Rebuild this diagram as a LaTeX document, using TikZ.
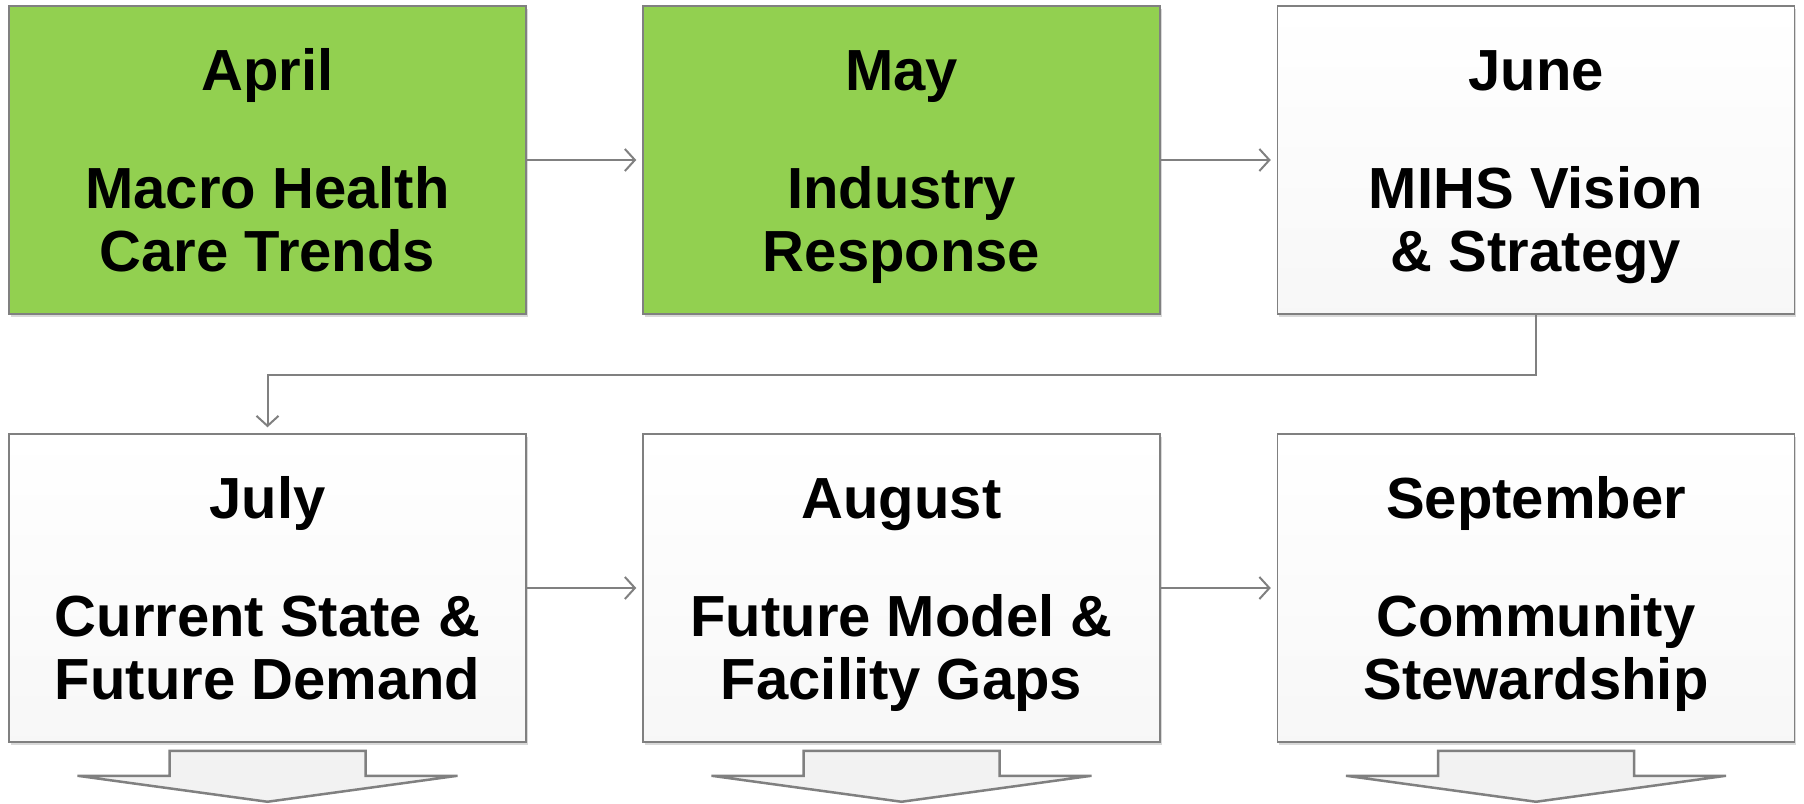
\documentclass[tikz,border=0pt]{standalone}
\usepackage{fontspec}
\setmainfont{Liberation Sans}
\usepackage{tikz}
\usetikzlibrary{arrows.meta,calc,shadows}
\definecolor{mgreen}{RGB}{146,208,80}
\definecolor{mline}{RGB}{128,128,128}
\tikzset{box/.style={rectangle,draw=mline,line width=1.5pt,minimum width=517pt,minimum height=308pt,align=center,font=\fontsize{58}{63}\selectfont\bfseries,text height=241pt,text depth=19pt,drop shadow={shadow xshift=1.5pt,shadow yshift=-3pt,opacity=.3}},gbox/.style={box,fill=mgreen},wbox/.style={box,top color=white,bottom color=black!3},arr/.style={draw=mline,line width=2pt,-{Straight Barb[length=10pt,width=22pt]},shorten >=6pt},blk/.style={draw=mline,fill=black!5,line width=2.5pt,line join=miter}}

\begin{document}
\begin{tikzpicture}[x=1pt,y=-1pt]
\useasboundingbox (0,0) rectangle (1804,803);
\node[gbox] (apr) at (267.5,160) {April\\[55pt]Macro Health\\Care Trends};
\node[gbox] (may) at (901.5,160) {May\\[55pt]Industry\\Response};
\node[wbox] (jun) at (1536,160) {June\\[55pt]MIHS Vision\\\& Strategy};
\node[wbox] (jul) at (267.5,588) {July\\[55pt]Current State \&\\Future Demand};
\node[wbox] (aug) at (901.5,588) {August\\[55pt]Future Model \&\\Facility Gaps};
\node[wbox] (sep) at (1536,588) {September\\[55pt]Community\\Stewardship};
\draw[arr] (apr) edge (may) (may) edge (jun) (jul) edge (aug) (aug) edge (sep);
\draw[arr] (jun.south) -- ++(0,60) -| (jul.north);
\foreach \n in {jul,aug,sep}
  \draw[blk] ($(\n.south)+(-98,8)$) -- ++(0,25) -- ++(-92,0) -- ($(\n.south)+(0,59)$) -- ($(\n.south)+(190,33)$) -- ++(-92,0) -- ++(0,-25) -- cycle;
\end{tikzpicture}
\end{document}
